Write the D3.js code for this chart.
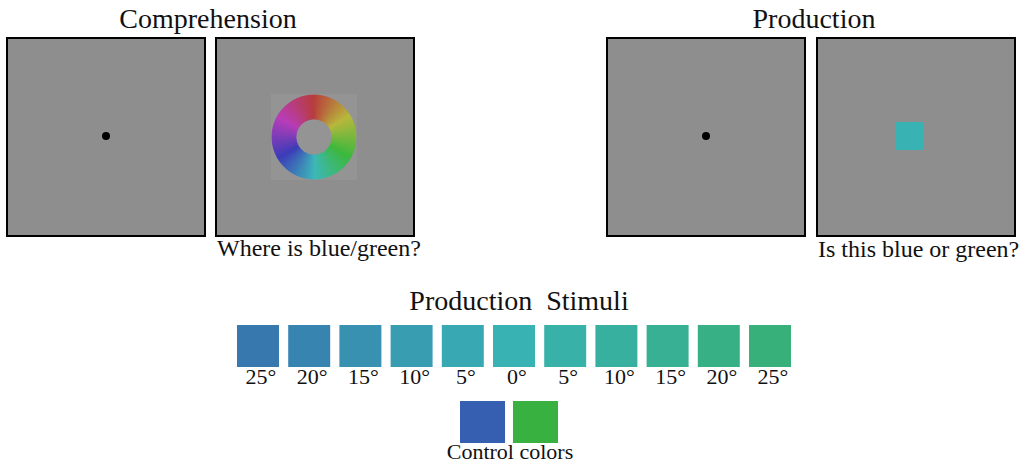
<!DOCTYPE html>
<html>
<head>
<meta charset="utf-8">
<script src="https://cdn.jsdelivr.net/npm/d3@7"></script>
<style>
  body { margin: 0; background: #fff; }
  text { font-family: "Liberation Serif", "Times New Roman", serif; fill: #111; }
</style>
</head>
<body>
<svg id="svg" width="1022" height="467"></svg>
<script>
// data
const taskTitles = ["Comprehension", "Production"];
const panelNames = ["fixComp", "wheel", "fixProd", "patch"];
const panelCaptions = ["", "Where is blue/green?", "", "Is this blue or green?"];
const stimulusKeys = ["b25", "b20", "b15", "b10", "b5", "c0", "g5", "g10", "g15", "g20", "g25"];
const stimulusLabels = ["25°", "20°", "15°", "10°", "5°", "0°", "5°", "10°", "15°", "20°", "25°"];
const stimulusColors = ["#3778ae", "#3784b0", "#3891b1", "#389db1", "#38a8b3", "#38b2b3",
                        "#38b1a9", "#38b09f", "#38b093", "#38b086", "#38b07a"];
const controlKeys = ["blue", "green"];
const controlColors = ["#375fb1", "#38b140"];
const patchColor = stimulusColors[5];

const svg = d3.select("#svg");

// panels
const panelX = d3.scaleOrdinal().domain(panelNames).range([7, 216, 607, 817]);
const panelY = 38, panelSize = 198;

const panel = svg.selectAll("g.panel")
  .data(panelNames)
  .enter()
  .append("g")
  .attr("class", "panel")
  .attr("transform", d => `translate(${panelX(d)},${panelY})`);

panel.append("rect")
  .attr("width", panelSize)
  .attr("height", panelSize)
  .attr("fill", "#8e8e8e")
  .attr("stroke", "#000")
  .attr("stroke-width", 2);

// fixation dots
panel.filter(d => d.startsWith("fix"))
  .append("circle")
  .attr("cx", panelSize / 2)
  .attr("cy", panelSize / 2 - 1)
  .attr("r", 4)
  .attr("fill", "#000");

// colour wheel
const wheel = panel.filter(d => d === "wheel")
  .append("g")
  .attr("transform", `translate(${panelSize / 2 - 1},${panelSize / 2})`);

wheel.append("rect")
  .attr("x", -43).attr("y", -43)
  .attr("width", 86).attr("height", 86)
  .attr("fill", "#949494");

const arc = d3.arc().innerRadius(18).outerRadius(42);
const hues = d3.range(0, 360, 2);
wheel.selectAll("path")
  .data(hues)
  .enter()
  .append("path")
  .attr("d", h => arc({ startAngle: (h - 1.5) * Math.PI / 180, endAngle: (h + 1.5) * Math.PI / 180 }))
  .attr("fill", h => d3.hsl(h, 0.5, 0.48).formatHex())
  .attr("stroke", h => d3.hsl(h, 0.5, 0.48).formatHex())
  .attr("stroke-width", 0.5);

// single test patch
panel.filter(d => d === "patch")
  .append("rect")
  .attr("x", 79).attr("y", 84)
  .attr("width", 28).attr("height", 28)
  .attr("fill", patchColor);

// captions
svg.selectAll("text.caption")
  .data(panelNames.map((d, i) => ({ name: d, text: panelCaptions[i] })).filter(d => d.text))
  .enter()
  .append("text")
  .attr("class", "caption")
  .attr("x", d => panelX(d.name) + 1)
  .attr("y", d => d.name === "wheel" ? 256 : 257)
  .attr("font-size", 24)
  .text(d => d.text);

// task titles
svg.selectAll("text.title")
  .data(taskTitles)
  .enter()
  .append("text")
  .attr("class", "title")
  .attr("x", (d, i) => i === 0 ? 208 : 814)
  .attr("y", 28)
  .attr("text-anchor", "middle")
  .attr("font-size", 28)
  .text(d => d);

// production stimuli
svg.append("text")
  .attr("x", 519)
  .attr("y", 310)
  .attr("text-anchor", "middle")
  .attr("font-size", 28)
  .attr("xml:space", "preserve")
  .style("white-space", "pre")
  .text("Production  Stimuli");

const xStim = d3.scaleBand()
  .domain(stimulusKeys)
  .range([237, 791])
  .paddingInner(0.18);

svg.selectAll("rect.stim")
  .data(stimulusKeys)
  .enter()
  .append("rect")
  .attr("class", "stim")
  .attr("x", d => xStim(d))
  .attr("y", 325)
  .attr("width", xStim.bandwidth())
  .attr("height", 42)
  .attr("fill", (d, i) => stimulusColors[i]);

svg.selectAll("text.stim-label")
  .data(stimulusKeys)
  .enter()
  .append("text")
  .attr("class", "stim-label")
  .attr("x", d => xStim(d) + xStim.bandwidth() / 2 + 3)
  .attr("y", 384)
  .attr("text-anchor", "middle")
  .attr("font-size", 22)
  .text((d, i) => stimulusLabels[i]);

// control colours
const xCtrl = d3.scaleBand()
  .domain(controlKeys)
  .range([460, 558])
  .paddingInner(0.15);

svg.selectAll("rect.ctrl")
  .data(controlKeys)
  .enter()
  .append("rect")
  .attr("class", "ctrl")
  .attr("x", d => xCtrl(d))
  .attr("y", 401)
  .attr("width", xCtrl.bandwidth())
  .attr("height", 42)
  .attr("fill", (d, i) => controlColors[i]);

svg.append("text")
  .attr("x", 510)
  .attr("y", 459)
  .attr("text-anchor", "middle")
  .attr("font-size", 22)
  .text("Control colors");
</script>
</body>
</html>
